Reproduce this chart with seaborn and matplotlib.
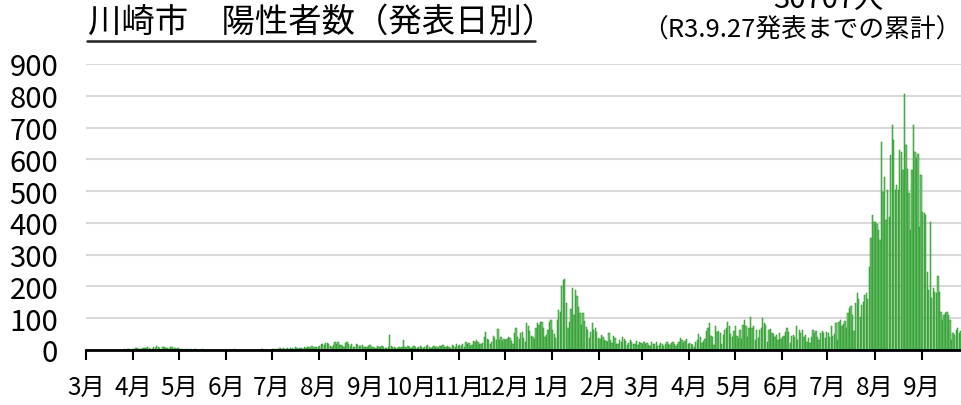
import matplotlib
matplotlib.use("Agg")
import matplotlib.pyplot as plt
import seaborn as sns
import pandas as pd
import numpy as np
from matplotlib.lines import Line2D

# daily positives, one list per month (R2.3 .. R3.9.27)
mar20 = [0,0,0,1,0,0,0,0,0,1,0,0,0,0,0,0,0,1,0,0,0,0,1,0,1,2,1,3,2,1,3]
apr20 = [4,5,5,3,4,2,6,7,5,8,6,4,3,9,6,12,8,5,3,10,11,6,7,4,9,8,2,5,4,6]
may20 = [3,4,2,1,3,2,1,2,0,1,3,1,0,1,0,2,0,0,1,0,0,1,0,0,0,1,0,0,0,1,0]
jun20 = [0,0,1,0,0,3,0,1,0,0,0,0,0,0,0,1,0,0,0,0,0,0,1,2,0,0,1,0,0,1]
jul20 = [2,3,1,4,2,5,3,6,2,4,5,3,7,5,4,8,6,3,5,7,4,9,6,8,10,5,12,7,9,11,8]
aug20 = [12,18,20,15,22,21,19,14,10,16,24,20,26,17,15,12,10,22,25,18,14,20,9,8,19,15,12,14,16,10,9]
sep20 = [8,12,15,10,11,7,6,14,9,10,13,8,5,6,9,48,13,10,8,6,5,9,7,11,30,8,7,12,9,6]
oct20 = [10,12,8,6,9,14,11,7,10,12,15,9,6,8,13,11,10,7,12,14,16,9,8,13,11,6,15,12,10,18,14]
nov20 = [15,12,18,10,25,20,22,14,16,28,24,30,26,20,18,22,40,58,35,30,20,25,45,38,32,66,30,40,28,35]
dec20 = [30,35,42,38,28,20,55,68,40,35,52,57,38,25,84,75,60,45,40,36,68,84,80,88,89,70,40,48,63,89,95]
jan21 = [63,50,37,95,126,120,201,220,223,149,68,89,128,194,110,189,170,136,115,79,115,92,73,63,37,58,84,63,68,58,37]
feb21 = [35,48,40,30,28,25,52,30,22,45,38,20,18,30,25,40,36,28,15,22,30,26,18,20,28,16,25,22]
mar21 = [20,25,18,22,15,12,24,20,18,25,14,16,22,19,12,20,25,18,15,22,26,20,12,18,25,38,30,22,28,35,20]
apr21 = [23,20,15,8,25,31,50,40,21,28,35,61,70,84,45,40,15,76,58,61,55,20,47,63,68,89,74,50,42,60]
may21 = [74,44,37,63,34,79,94,74,42,68,105,68,74,32,63,37,63,68,100,84,79,26,63,65,55,50,42,47,30,55,35]
jun21 = [42,44,58,68,58,21,44,47,42,76,31,63,52,63,40,47,26,37,21,42,63,52,60,42,30,52,60,55,37,58]
jul21 = [52,40,74,45,50,84,30,88,94,75,82,90,70,116,131,137,110,60,147,179,160,105,141,150,173,178,162,262,351,424,404]
aug21 = [404,398,377,346,655,498,545,409,503,419,613,707,660,503,519,503,629,624,566,805,645,571,493,377,566,707,624,603,616,388,550]
sep21 = [435,430,424,246,190,403,163,195,184,179,232,181,120,95,110,116,121,110,95,32,53,47,63,68,52,60,45]

months = [mar20, apr20, may20, jun20, jul20, aug20, sep20, oct20, nov20, dec20,
          jan21, feb21, mar21, apr21, may21, jun21, jul21, aug21, sep21]
counts = [v for m in months for v in m]
dates = pd.date_range("2020-03-01", periods=len(counts), freq="D")
df = pd.DataFrame({"day": np.arange(len(counts)), "count": counts})

title = "川崎市　陽性者数（発表日別）"
total_text = "30707人"
note_text = "（R3.9.27発表までの累計）"

sns.set_theme(style="white")
plt.rcParams["font.family"] = ["Noto Sans CJK JP", "DejaVu Sans"]

fig = plt.figure(figsize=(9.62, 4.06), dpi=100)
ax = fig.add_axes([86 / 962, 55 / 406, 877 / 962, 286 / 406])

sns.barplot(data=df, x="day", y="count", native_scale=True, errorbar=None,
            color="#76c676", saturation=1, width=0.85,
            edgecolor="#1a901a", linewidth=0.35, ax=ax, zorder=2)

ax.set_ylim(0, 900)
ax.set_xlim(-0.5, len(counts) - 0.5)
ax.set_yticks(range(0, 901, 100))
ax.yaxis.grid(True, color="#d9d9d9", linewidth=1.5, zorder=0)
ax.set_axisbelow(True)

starts = np.where(dates.day == 1)[0]
ax.set_xticks(starts - 0.5)
ax.set_xticklabels([f"{d.month}月" for d in dates[starts]])
ax.set_xlabel("")
ax.set_ylabel("")

for side in ["left", "right", "top"]:
    ax.spines[side].set_visible(False)
ax.spines["bottom"].set_color("black")
ax.spines["bottom"].set_linewidth(2)
ax.tick_params(axis="x", direction="out", length=7, width=1.5, color="black",
               labelsize=17.5, pad=10, bottom=True)
ax.tick_params(axis="y", length=0, labelsize=21, pad=20)
for lab in ax.get_xticklabels() + ax.get_yticklabels():
    lab.set_color("black")

fig.text(88 / 962, 1 - 22 / 406, title, fontsize=24, ha="left", va="center", color="black")
fig.add_artist(Line2D([87 / 962, 535 / 962], [1 - 42 / 406, 1 - 42 / 406],
                      transform=fig.transFigure, color="#222222", linewidth=1.8))
fig.text(828 / 962, 1 - 8 / 406, total_text, fontsize=21, ha="center", va="baseline", color="black")
fig.text(802 / 962, 1 - 31 / 406, note_text, fontsize=18.5, ha="center", va="center", color="black")

fig.savefig("out.png", dpi=100)
